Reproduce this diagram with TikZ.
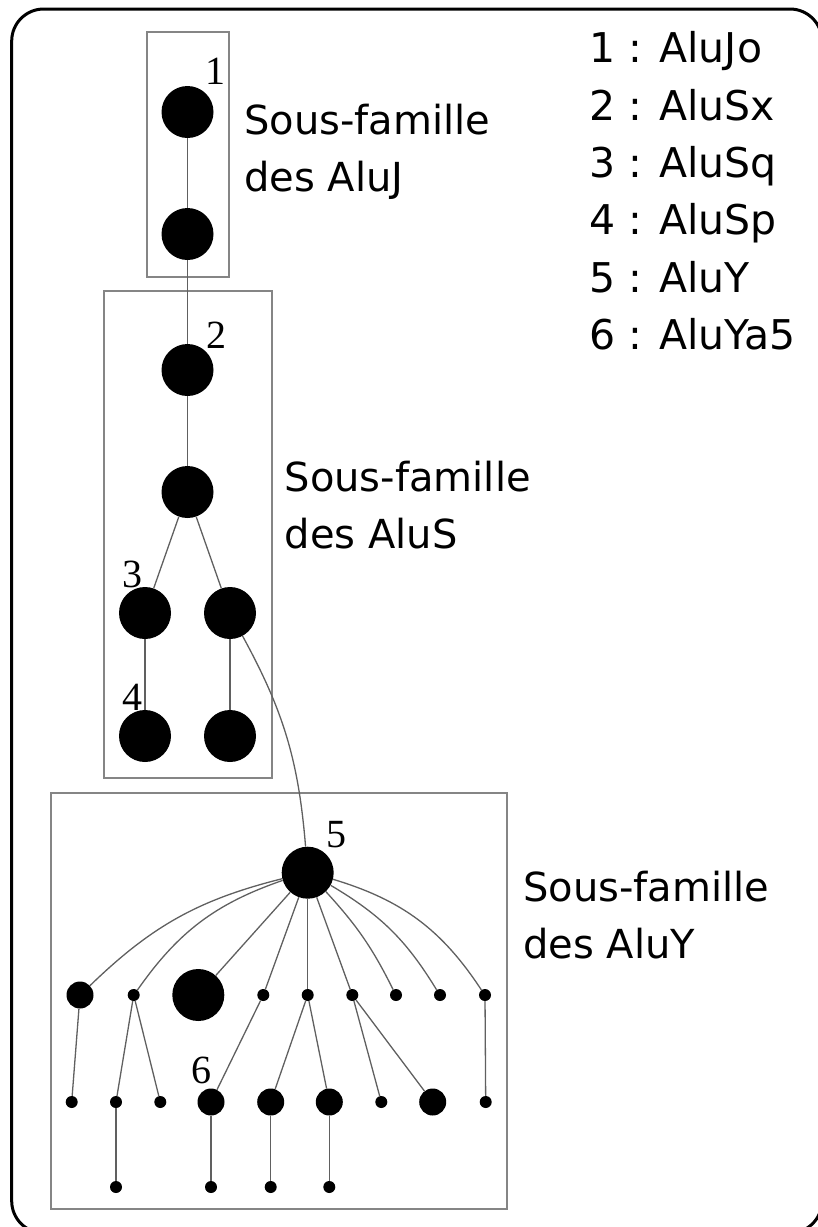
\documentclass[tikz,border=0pt]{standalone}
\usepackage{fontspec}
\newfontfamily\lblfont{DejaVu Sans}
\newfontfamily\numfont{Liberation Serif}
\definecolor{edgecol}{HTML}{606060}
\definecolor{boxcol}{HTML}{858585}
\tikzset{
  big/.style={circle, fill=black, inner sep=0pt, minimum size=52pt},
  mid/.style={circle, fill=black, inner sep=0pt, minimum size=27pt},
  small/.style={circle, fill=black, inner sep=0pt, minimum size=12pt},
  edge/.style={draw=edgecol, line width=1.3pt},
  famille/.style={draw=boxcol, line width=1.6pt},
  numlbl/.style={inner sep=0pt, font=\numfont\fontsize{40}{40}\selectfont},
  txt/.style={inner sep=0pt, anchor=base west, font=\lblfont\fontsize{40}{47}\selectfont},
  leg/.style={inner sep=0pt, anchor=base west, font=\lblfont\fontsize{41}{47}\selectfont},
}
\begin{document}
\begin{tikzpicture}[x=1pt,y=1pt]
\useasboundingbox (0,0) rectangle (818,-1227);
% outer frame
\draw[line width=3pt, rounded corners=32pt] (11.7,-9) rectangle (822,-1233);
% family boxes
\draw[famille] (147,-32) rectangle (229,-277);
\draw[famille] (104,-291) rectangle (272,-778);
\draw[famille] (51,-793) rectangle (507,-1209);
% AluJ
\node[big] (n1) at (187.5,-112) {};
\node[big] (n1b) at (187.5,-234) {};
% AluS
\node[big] (n2) at (187.5,-370) {};
\node[big] (n2b) at (187.5,-492) {};
\node[big] (n3) at (145,-613) {};
\node[big] (n3r) at (230,-613) {};
\node[big] (n4) at (145,-736) {};
\node[big] (n4r) at (230,-736) {};
% AluY
\node[big] (n5) at (307.7,-872.7) {};
\node[mid] (A) at (80,-995) {};
\node[small] (B) at (133.7,-995) {};
\node[big] (C) at (198.3,-995) {};
\node[small] (D) at (263.3,-995) {};
\node[small] (E) at (307.7,-995) {};
\node[small] (F) at (352.3,-995) {};
\node[small] (G) at (396,-995) {};
\node[small] (H) at (440,-995) {};
\node[small] (I) at (485,-995) {};
\node[small] (a) at (71.7,-1102) {};
\node[small] (b) at (116,-1102) {};
\node[small] (c) at (160.3,-1102) {};
\node[mid] (d) at (211,-1102) {};
\node[mid] (e) at (270.7,-1102) {};
\node[mid] (f) at (329.3,-1102) {};
\node[small] (g) at (381.3,-1102) {};
\node[mid] (h) at (432.7,-1102) {};
\node[small] (i) at (485.7,-1102) {};
\node[small] (b3) at (116,-1187) {};
\node[small] (d3) at (211,-1187) {};
\node[small] (e3) at (270.7,-1187) {};
\node[small] (f3) at (329.3,-1187) {};
% edges
\draw[edge] (n1) -- (n1b);
\draw[edge] (n1b) -- (n2);
\draw[edge] (n2) -- (n2b);
\draw[edge] (n2b) -- (n3);
\draw[edge] (n2b) -- (n3r);
\draw[edge] (n3) -- (n4);
\draw[edge] (n3r) -- (n4r);
\draw[edge] (n3r) to[bend left=12] (n5);
\draw[edge] (n5) to[bend right=15] (A);
\draw[edge] (n5) to[bend right=18] (B);
\draw[edge] (n5) -- (C);
\draw[edge] (n5) -- (D);
\draw[edge] (n5) -- (E);
\draw[edge] (n5) -- (F);
\draw[edge] (n5) to[bend left=8] (G);
\draw[edge] (n5) to[bend left=14] (H);
\draw[edge] (n5) to[bend left=20] (I);
\draw[edge] (A) -- (a);
\draw[edge] (B) -- (b);
\draw[edge] (B) -- (c);
\draw[edge] (D) -- (d);
\draw[edge] (E) -- (e);
\draw[edge] (E) -- (f);
\draw[edge] (F) -- (g);
\draw[edge] (F) -- (h);
\draw[edge] (I) -- (i);
\draw[edge] (b) -- (b3);
\draw[edge] (d) -- (d3);
\draw[edge] (e) -- (e3);
\draw[edge] (f) -- (f3);
% number labels
\node[numlbl] (l1) at (215,-71.5) {1};
\node[numlbl] (l2) at (216,-335) {2};
\node[numlbl] (l3) at (132,-574) {3};
\node[numlbl] (l4) at (132,-697) {4};
\node[numlbl] (l5) at (336,-835) {5};
\node[numlbl] (l6) at (201,-1070) {6};
% family texts
\node[txt] (tj1) at (244,-134) {Sous-famille};
\node[txt] (tj2) at (244,-191) {des AluJ};
\node[txt] (ts1) at (284.5,-491) {Sous-famille};
\node[txt] (ts2) at (284.5,-548) {des AluS};
\node[txt] (ty1) at (523,-901) {Sous-famille};
\node[txt] (ty2) at (523,-958) {des AluY};
% legend
\node[leg] (k1) at (589,-62.5) {1 : AluJo};
\node[leg] (k2) at (589,-120) {2 : AluSx};
\node[leg] (k3) at (589,-177.4) {3 : AluSq};
\node[leg] (k4) at (589,-234.8) {4 : AluSp};
\node[leg] (k5) at (589,-292.2) {5 : AluY};
\node[leg] (k6) at (589,-349.6) {6 : AluYa5};
\end{tikzpicture}
\end{document}
